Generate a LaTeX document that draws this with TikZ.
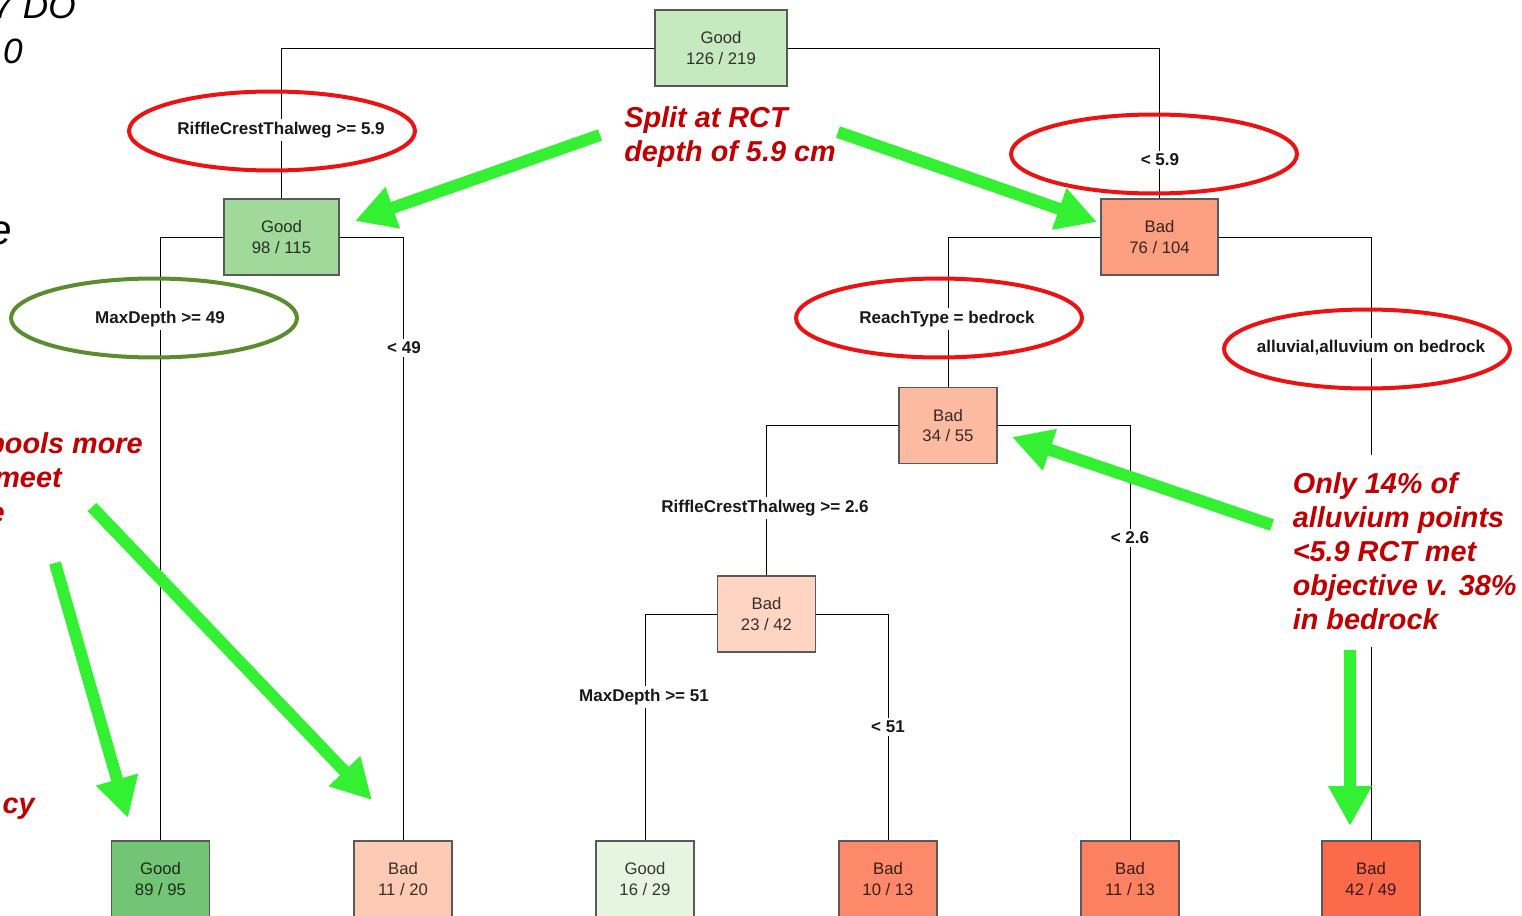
\documentclass[tikz,border=0pt]{standalone}
\usepackage{fontspec}
\setmainfont{Liberation Sans}
\usetikzlibrary{positioning}
\usetikzlibrary{shapes.geometric,arrows.meta}

\definecolor{good_a}{HTML}{C7E9C0}
\definecolor{good_b}{HTML}{A1D99B}
\definecolor{good_c}{HTML}{74C476}
\definecolor{good_d}{HTML}{E5F5E0}
\definecolor{bad_a}{HTML}{FC9F81}
\definecolor{bad_b}{HTML}{FCBBA1}
\definecolor{bad_c}{HTML}{FDD5C2}
\definecolor{bad_d}{HTML}{FDCAB3}
\definecolor{bad_e}{HTML}{FC8A6A}
\definecolor{bad_f}{HTML}{FC8161}
\definecolor{bad_g}{HTML}{FB6A4A}
\definecolor{ringred}{HTML}{EE1111}
\definecolor{ringgreen}{HTML}{5B8C2E}
\definecolor{notered}{HTML}{C00000}
\definecolor{pointgreen}{HTML}{33F033}

\begin{document}
\begin{tikzpicture}[
x=0.02cm, y=-0.02cm,
tbox/.style={rectangle, draw=black!65, line width=0.6pt, minimum width=1.96cm, minimum height=1.52cm, align=center, font=\fontsize{9.5}{11.9}\selectfont, text=black, text opacity=0.78},
splitlab/.style={fill=white, inner sep=1.5pt, font=\fontsize{9.7}{11}\selectfont\bfseries, text=black!90},
redring/.style={ellipse, draw=ringred, line width=0.08cm, minimum width=5.72cm, minimum height=1.58cm},
greenring/.style={redring, draw=ringgreen},
note/.style={font=\fontsize{16.4}{19.3}\selectfont\bfseries\itshape, text=notered, align=left, inner sep=0pt},
cutoff/.style={font=\fontsize{20}{24}\selectfont\itshape, inner sep=0pt},
pointer/.style={draw=pointgreen, line width=0.24cm, -{Triangle[length=0.8cm, width=0.82cm]}},
]
\useasboundingbox (0,0) rectangle (1522,916);
\clip (0,0) rectangle (1522,916);

% tree nodes
\node[tbox, fill=good_a, minimum width=2.64cm] (root) at (721,48) {Good\\126 / 219};
\node[tbox, fill=good_b, minimum width=2.3cm] (good98) at (281.5,237) {Good\\98 / 115};
\node[tbox, fill=bad_a, minimum width=2.34cm] (bad76) at (1159.5,237) {Bad\\76 / 104};
\node[tbox, fill=bad_b] (bad34) at (948,425.5) {Bad\\34 / 55};
\node[tbox, fill=bad_c] (bad23) at (766.5,614) {Bad\\23 / 42};

% leaves
\node[tbox, fill=good_c] (good89) at (160.5,879) {Good\\89 / 95};
\node[tbox, fill=bad_d] (bad11_a) at (403,879) {Bad\\11 / 20};
\node[tbox, fill=good_d] (good16) at (645,879) {Good\\16 / 29};
\node[tbox, fill=bad_e] (bad10) at (888,879) {Bad\\10 / 13};
\node[tbox, fill=bad_f] (bad11_b) at (1130,879) {Bad\\11 / 13};
\node[tbox, fill=bad_g] (bad42) at (1371,879) {Bad\\42 / 49};

\draw (root.west) -| (good98.north);
\draw (root.east) -| (bad76.north);
\draw (good98.west) -| (good89.north);
\draw (good98.east) -| (bad11_a.north);
\draw (bad76.west) -| (bad34.north);
\draw (bad76.east) -| (bad42.north);
\draw (bad34.west) -| (bad23.north);
\draw (bad34.east) -| (bad11_b.north);
\draw (bad23.west) -| (good16.north);
\draw (bad23.east) -| (bad10.north);

% split labels
\node[splitlab] (lab_rct1) at (281,130) {RiffleCrestThalweg >= 5.9};
\node[splitlab] (lab_rct1n) at (1160,160) {< 5.9};
\node[splitlab] (lab_md1) at (160,319) {MaxDepth >= 49};
\node[splitlab] (lab_md1n) at (404,348) {< 49};
\node[splitlab] (lab_reach) at (947,319) {ReachType = bedrock};
\node[splitlab] (lab_reachn) at (1371,348) {alluvial,alluvium on bedrock};
\node[splitlab] (lab_rct2) at (765,508) {RiffleCrestThalweg >= 2.6};
\node[splitlab] (lab_rct2n) at (1130,538) {< 2.6};
\node[splitlab] (lab_md2) at (644,697) {MaxDepth >= 51};
\node[splitlab] (lab_md2n) at (888,727) {< 51};

% rings
\node[redring] (ring_rct) at (272,131) {};
\node[redring] (ring_rctn) at (1154,154) {};
\node[greenring] (ring_md) at (154,318) {};
\node[redring] (ring_reach) at (939,318) {};
\node[redring] (ring_reachn) at (1367,349) {};

% notes
\node[note, anchor=north west] (note_split) at (624,106) {Split at RCT\\depth of 5.9 cm};
\node[note, anchor=north west, fill=white, inner xsep=2pt, inner ysep=10pt] (note_only) at (1289,455) {Only 14\% of\\alluvium points\\<5.9 RCT met\\objective v. 38\%\\in bedrock};
\node[note, anchor=base east] (note_pools) at (143,453) {pools more};
\node[note, anchor=base east] (note_meet) at (62,487) {meet};
\node[note, anchor=base east] (note_e) at (5,522) {e};
\node[note, anchor=base east] (note_cy) at (35,813) {cy};
\node[cutoff, anchor=base east] (cut_do) at (76,18) {7 DO};
\node[cutoff, anchor=base east] (cut_zero) at (23,63) {0};
\node[cutoff, anchor=base east, font=\fontsize{24}{28}\selectfont\itshape] (cut_e) at (12,244) {e};

% green arrows
\coordinate (p1_from) at (600,135);
\coordinate (p1_to) at (355,221);
\coordinate (p2_from) at (838,132);
\coordinate (p2_to) at (1097,222);
\coordinate (p3_from) at (1272,525);
\coordinate (p3_to) at (1012,437);
\coordinate (p4_from) at (1350,650);
\coordinate (p4_to) at (1350,826);
\coordinate (p5_from) at (92,507);
\coordinate (p5_to) at (372,800);
\coordinate (p6_from) at (55,563);
\coordinate (p6_to) at (128,818);
\draw[pointer] (p1_from) -- (p1_to);
\draw[pointer] (p2_from) -- (p2_to);
\draw[pointer] (p3_from) -- (p3_to);
\draw[pointer] (p4_from) -- (p4_to);
\draw[pointer] (p5_from) -- (p5_to);
\draw[pointer] (p6_from) -- (p6_to);
\end{tikzpicture}
\end{document}
